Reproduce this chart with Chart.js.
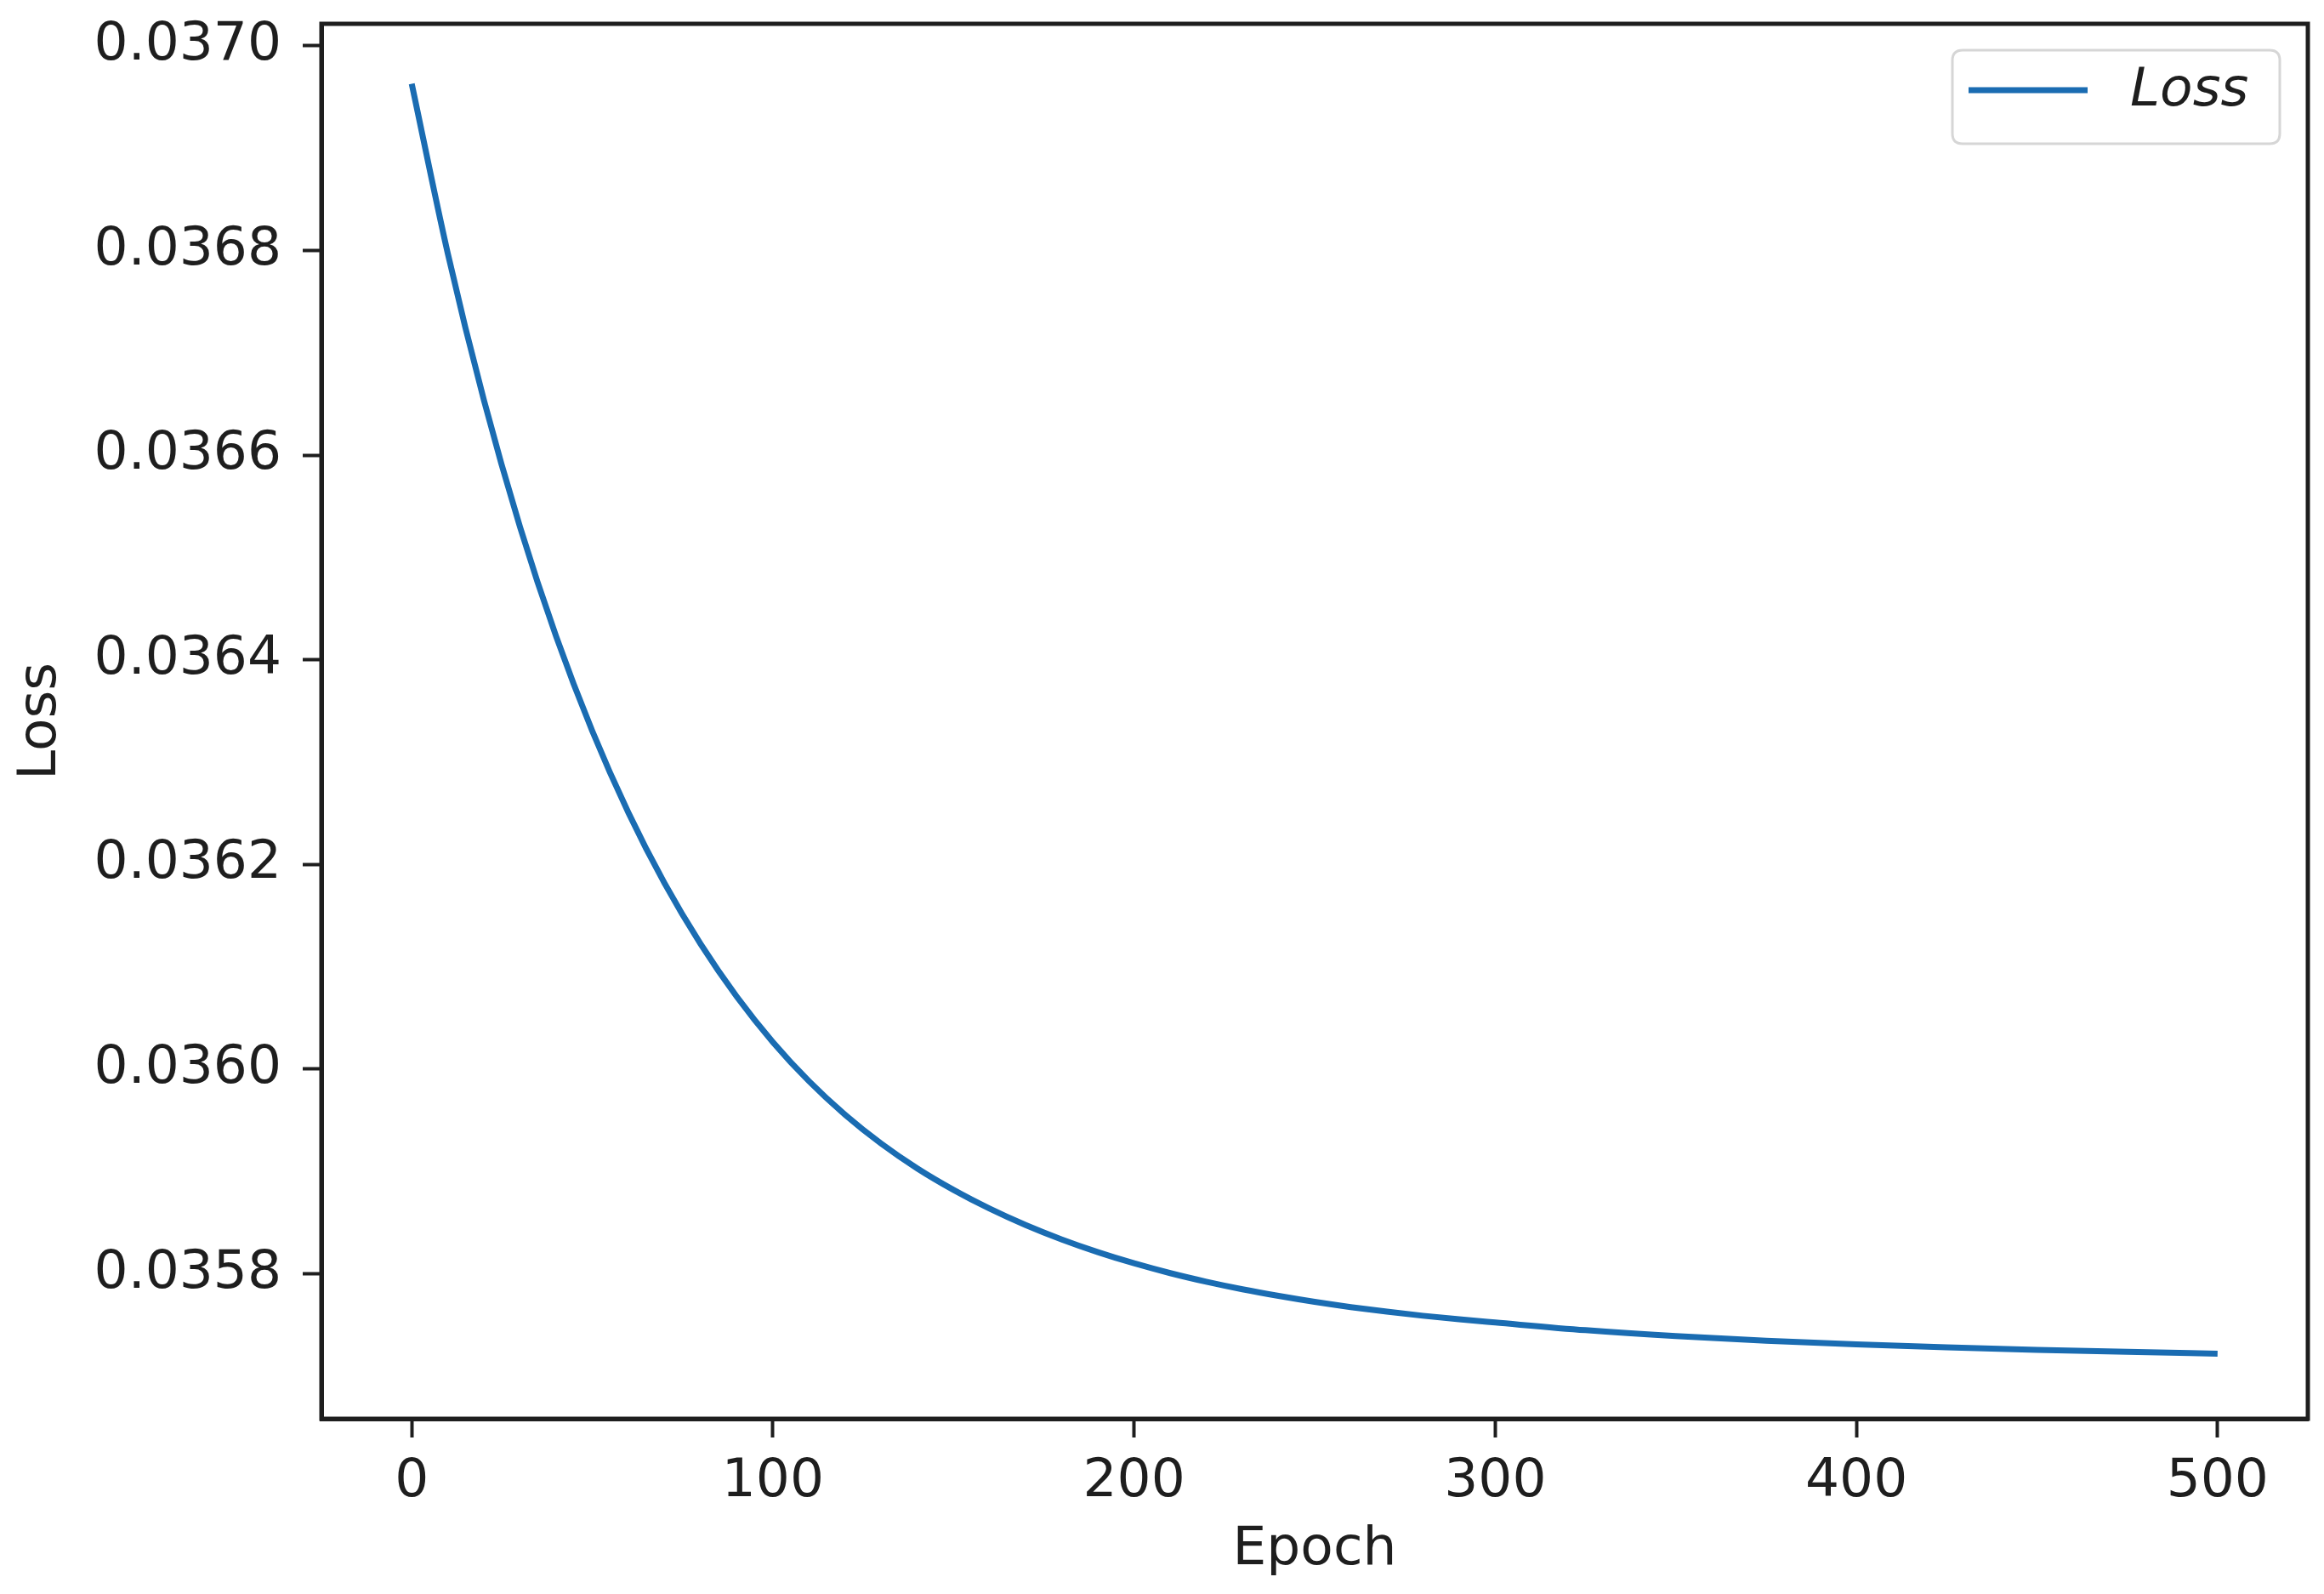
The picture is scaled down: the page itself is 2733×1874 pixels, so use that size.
<!DOCTYPE html>
<html>
<head>
<meta charset="utf-8">
<script src="https://cdn.jsdelivr.net/npm/chart.js@4.4.1/dist/chart.umd.min.js"></script>
<style>
  html, body { margin: 0; padding: 0; background: #ffffff; }
  #wrap { width: 2733px; height: 1874px; position: relative; }
  canvas { display: block; }
</style>
</head>
<body>
<div id="wrap"><canvas id="c" width="2733" height="1874"></canvas></div>
<script>
// ---- data ----
const epochs = [0, 10, 20, 30, 40, 50, 60, 70, 80, 90, 100, 110, 120, 130, 140, 150, 160, 170, 180, 190, 200, 210, 220, 230, 240, 250, 260, 270, 280, 290, 300, 325, 350, 375, 400, 425, 450, 475, 500];
const lossValues = [0.0369630, 0.0367969, 0.0366535, 0.0365296, 0.0364226, 0.0363302, 0.0362504, 0.0361815, 0.0361220, 0.0360706, 0.0360262, 0.0359880, 0.0359552, 0.0359270, 0.0359027, 0.0358818, 0.0358635, 0.0358474, 0.0358333, 0.0358209, 0.0358100, 0.0358004, 0.0357920, 0.0357846, 0.0357781, 0.0357723, 0.0357672, 0.0357627, 0.0357587, 0.0357552, 0.0357521, 0.0357446, 0.0357388, 0.0357343, 0.0357307, 0.0357278, 0.0357254, 0.0357234, 0.0357217];
const xTickValues = [0, 100, 200, 300, 400, 500];
const yTickValues = [0.0358, 0.0360, 0.0362, 0.0364, 0.0366, 0.0368, 0.0370];
const seriesLabel = 'Loss';
const xTitle = 'Epoch';
const yTitle = 'Loss';

const FONT = "'DejaVu Sans', sans-serif";
const INK = '#1e1e1e';
const LINE = '#1a6cb2';

const frameAndLegend = {
  id: 'frameAndLegend',
  afterDraw(chart) {
    const ctx = chart.ctx;
    const a = chart.chartArea;
    ctx.save();
    // axes frame (all four spines)
    ctx.strokeStyle = INK;
    ctx.lineWidth = 5;
    ctx.strokeRect(a.left, a.top, a.right - a.left, a.bottom - a.top);

    // legend box (upper right, matplotlib style)
    const ds = chart.data.datasets[0];
    const bw = 385, bh = 110;
    const bx = a.right - 33 - bw;
    const by = a.top + 31;
    const r = 12;
    ctx.beginPath();
    ctx.moveTo(bx + r, by);
    ctx.lineTo(bx + bw - r, by);
    ctx.quadraticCurveTo(bx + bw, by, bx + bw, by + r);
    ctx.lineTo(bx + bw, by + bh - r);
    ctx.quadraticCurveTo(bx + bw, by + bh, bx + bw - r, by + bh);
    ctx.lineTo(bx + r, by + bh);
    ctx.quadraticCurveTo(bx, by + bh, bx, by + bh - r);
    ctx.lineTo(bx, by + r);
    ctx.quadraticCurveTo(bx, by, bx + r, by);
    ctx.closePath();
    ctx.fillStyle = 'rgba(255,255,255,0.8)';
    ctx.fill();
    ctx.strokeStyle = '#d6d6d6';
    ctx.lineWidth = 3;
    ctx.stroke();

    const cy = by + bh / 2 - 8;
    ctx.beginPath();
    ctx.moveTo(bx + 19, cy);
    ctx.lineTo(bx + 159, cy);
    ctx.strokeStyle = ds.borderColor;
    ctx.lineWidth = ds.borderWidth;
    ctx.lineCap = 'butt';
    ctx.stroke();

    ctx.fillStyle = INK;
    ctx.font = "italic 63px 'DejaVu Sans', sans-serif";
    ctx.textBaseline = 'middle';
    ctx.textAlign = 'left';
    ctx.fillText(ds.label, bx + 209, cy + 2);
    ctx.restore();
  }
};

new Chart(document.getElementById('c'), {
  type: 'line',
  data: {
    datasets: [{
      label: seriesLabel,
      data: epochs.map((e, i) => ({ x: e, y: lossValues[i] })),
      borderColor: LINE,
      backgroundColor: LINE,
      borderWidth: 7,
      pointRadius: 0,
      cubicInterpolationMode: 'monotone',
      fill: false
    }]
  },
  options: {
    responsive: false,
    animation: false,
    devicePixelRatio: 1,
    layout: { padding: { top: 28, right: 19, left: 0, bottom: 0 } },
    plugins: {
      legend: { display: false },
      tooltip: { enabled: false }
    },
    scales: {
      x: {
        type: 'linear',
        min: -25,
        max: 525,
        afterBuildTicks: (s) => { s.ticks = xTickValues.map(v => ({ value: v })); },
        afterFit: (s) => { s.height = 206; s.paddingLeft = 0; s.paddingRight = 0; },
        ticks: {
          font: { family: FONT, size: 63 },
          color: INK,
          padding: 15,
          maxRotation: 0,
          callback: (v) => String(v)
        },
        grid: { display: true, drawOnChartArea: false, drawTicks: true, tickLength: 22, tickWidth: 4, tickColor: INK },
        border: { display: true, color: INK, width: 5 },
        title: { display: true, text: xTitle, color: INK, font: { family: FONT, size: 63 }, padding: { top: 0, bottom: 14 } }
      },
      y: {
        type: 'linear',
        min: 0.035658,
        max: 0.0370216,
        afterBuildTicks: (s) => { s.ticks = yTickValues.map(v => ({ value: v })); },
        afterFit: (s) => { s.width = 378; s.paddingTop = 0; s.paddingBottom = 0; },
        ticks: {
          font: { family: FONT, size: 63 },
          color: INK,
          padding: 25,
          callback: (v) => Number(v).toFixed(4)
        },
        grid: { display: true, drawOnChartArea: false, drawTicks: true, tickLength: 22, tickWidth: 4, tickColor: INK },
        border: { display: true, color: INK, width: 5 },
        title: { display: true, text: yTitle, color: INK, font: { family: FONT, size: 63 }, padding: { top: 11, bottom: 0 } }
      }
    }
  },
  plugins: [frameAndLegend]
});
</script>
</body>
</html>
